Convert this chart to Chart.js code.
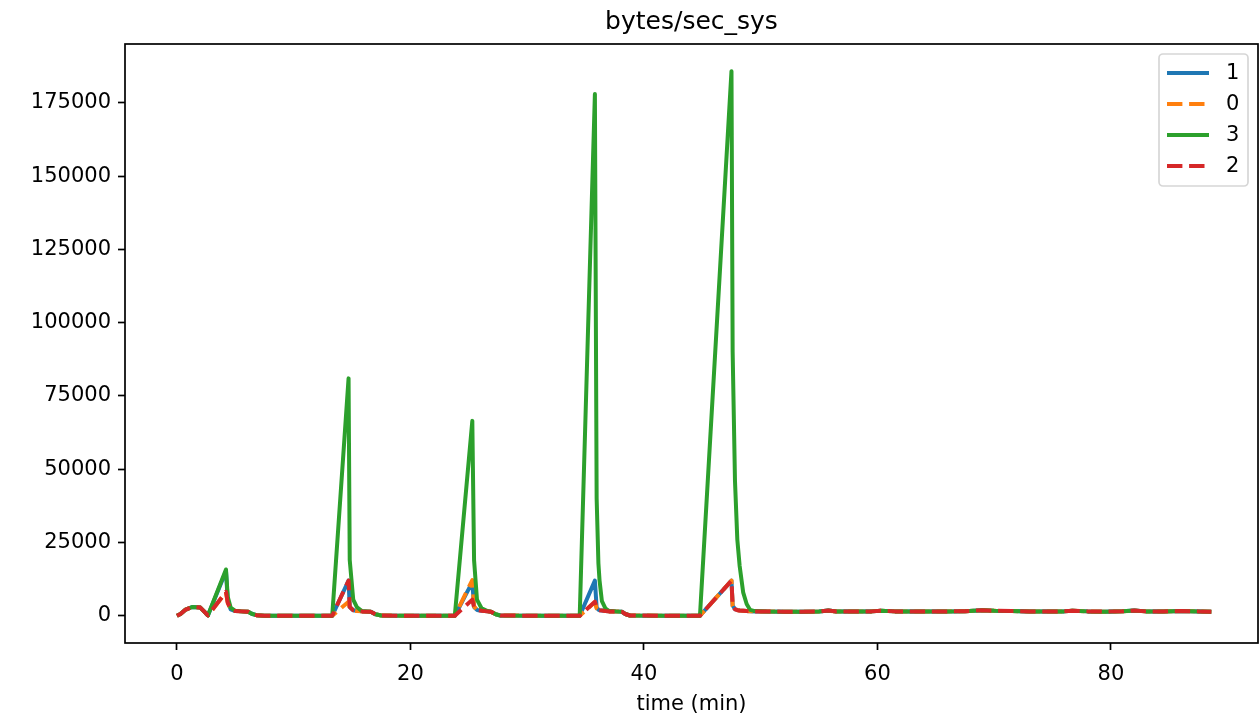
<!DOCTYPE html>
<html>
<head>
<meta charset="utf-8">
<script src="https://cdn.jsdelivr.net/npm/chart.js@4/dist/chart.umd.min.js"></script>
<style>
  html, body { margin: 0; padding: 0; background: #fff; }
  #wrap { width: 1259px; height: 718px; position: relative; }
</style>
</head>
<body>
<div id="wrap"><canvas id="chart" width="1259" height="718"></canvas></div>
<script>
/* ---- Data (time in minutes, shared by all four series) ---- */
const times = [
  0, 0.3, 0.7, 1.3, 2.0, 2.3, 2.65, 4.2, 4.35, 4.6, 5.0, 5.5, 6.1, 6.4, 6.8, 7.5, 10, 13.3,
  14.7, 14.8, 15.1, 15.4, 15.85, 16.6, 17.0, 17.5, 20, 23.8,
  25.3, 25.45, 25.7, 26.1, 26.6, 26.9, 27.3, 27.7, 31, 34.5,
  35.8, 35.95, 36.1, 36.2, 36.4, 36.7, 37.0, 37.6, 38.1, 38.4, 38.8, 42, 44.8,
  47.5, 47.6, 47.8, 48.0, 48.2, 48.5, 48.8, 49.1, 49.5,
  50.5, 52, 53.5, 55, 55.8, 56.5, 58, 59.5, 60.3, 61.5, 63, 64.5, 66, 67.5, 69,
  70, 71.5, 73, 74.5, 76, 76.7, 78, 79.5, 81, 82, 83, 84.5, 86, 87.5, 88.6
];

const series1 = [
  0, 600, 2000, 3000, 2800, 1600, 100, 15200, 5000, 2200, 1600, 1500, 1400, 700, 200, 0, 0, 0,
  12000, 3000, 1900, 1700, 1500, 1400, 500, 100, 0, 0,
  11500, 3000, 2000, 1700, 1500, 1400, 500, 100, 0, 0,
  12000, 2800, 2100, 1900, 1800, 1600, 1500, 1500, 1400, 600, 100, 0, 0,
  12000, 3500, 2300, 2000, 1800, 1700, 1600, 1550, 1500,
  1450, 1400, 1400, 1450, 1800, 1450, 1450, 1500, 1700, 1500, 1450, 1450, 1500, 1550, 1900,
  1700, 1600, 1500, 1450, 1500, 1750, 1500, 1400, 1550, 1800, 1500, 1450, 1650, 1500, 1400
];

const series0 = [
  0, 600, 2000, 3000, 2800, 1600, 100, 8000, 4500, 2200, 1600, 1500, 1400, 700, 200, 0, 0, 0,
  4800, 2600, 1800, 1600, 1500, 1400, 500, 100, 0, 0,
  12200, 3200, 2000, 1700, 1500, 1400, 500, 100, 0, 0,
  4600, 2500, 2000, 1900, 1800, 1600, 1500, 1500, 1400, 600, 100, 0, 0,
  12000, 3300, 2200, 1900, 1800, 1700, 1600, 1550, 1500,
  1450, 1400, 1400, 1450, 1750, 1450, 1450, 1500, 1700, 1500, 1450, 1450, 1500, 1550, 1850,
  1700, 1600, 1500, 1450, 1500, 1700, 1500, 1400, 1550, 1750, 1500, 1450, 1600, 1500, 1400
];

const series3 = [
  0, 600, 2000, 3000, 2800, 1600, 100, 15800, 6500, 2800, 1700, 1500, 1400, 700, 200, 0, 0, 0,
  81000, 19000, 5500, 3000, 1600, 1400, 500, 100, 0, 0,
  66500, 19000, 5500, 2500, 1600, 1400, 500, 100, 0, 0,
  178000, 40000, 18000, 12000, 5000, 2500, 1700, 1500, 1400, 600, 100, 0, 0,
  185800, 90000, 46000, 26000, 17000, 8000, 4000, 2000, 1600,
  1450, 1400, 1400, 1450, 1800, 1450, 1450, 1500, 1700, 1500, 1450, 1450, 1500, 1550, 1900,
  1700, 1600, 1500, 1450, 1500, 1750, 1500, 1400, 1550, 1800, 1500, 1450, 1650, 1500, 1400
];

const series2 = [
  0, 600, 2000, 3000, 2800, 1600, 100, 8200, 4500, 2200, 1600, 1500, 1400, 700, 200, 0, 0, 0,
  12000, 3000, 1900, 1700, 1500, 1400, 500, 100, 0, 0,
  5500, 2800, 2000, 1700, 1500, 1400, 500, 100, 0, 0,
  4800, 2500, 2000, 1900, 1800, 1600, 1500, 1500, 1400, 600, 100, 0, 0,
  12000, 3200, 2200, 1900, 1800, 1700, 1600, 1550, 1500,
  1450, 1400, 1400, 1450, 1800, 1450, 1450, 1500, 1700, 1500, 1450, 1450, 1500, 1550, 1900,
  1700, 1600, 1500, 1450, 1500, 1750, 1500, 1400, 1550, 1800, 1500, 1450, 1650, 1500, 1400
];

const seriesLabels = ['1', '0', '3', '2'];
const xTickValues = [0, 20, 40, 60, 80];
const yTickValues = [0, 25000, 50000, 75000, 100000, 125000, 150000, 175000];

/* ---- Styling ---- */
const FONT = '"DejaVu Sans", "Liberation Sans", sans-serif';
const COLORS = ['#1f77b4', '#ff7f0e', '#2ca02c', '#d62728'];
const DASHED = [false, true, false, true];
const DASH = [15.4, 6.7];
const LINE_W = 4;

const toPoints = (vals) => times.map((t, i) => ({ x: t, y: vals[i] }));
const allSeries = [series1, series0, series3, series2];

const datasets = allSeries.map((vals, i) => ({
  label: seriesLabels[i],
  data: toPoints(vals),
  borderColor: COLORS[i],
  backgroundColor: COLORS[i],
  borderWidth: LINE_W,
  borderDash: DASHED[i] ? DASH : [],
  borderCapStyle: 'butt',
  borderJoinStyle: 'round',
  pointRadius: 0,
  tension: 0,
  fill: false,
  order: 4 - i,          // later series drawn on top, like matplotlib
}));

/* ---- Frame, title and in-axes legend ---- */
const decorPlugin = {
  id: 'decor',
  afterDraw(chart) {
    const { ctx, chartArea: a } = chart;
    ctx.save();

    // axes frame
    ctx.strokeStyle = '#000';
    ctx.lineWidth = 1.7;
    ctx.strokeRect(a.left, a.top, a.right - a.left, a.bottom - a.top);

    // title
    ctx.fillStyle = '#000';
    ctx.font = `25px ${FONT}`;
    ctx.textAlign = 'center';
    ctx.textBaseline = 'alphabetic';
    ctx.fillText('bytes/sec_sys', (a.left + a.right) / 2, a.top - 15);

    // legend box
    const w = 89, h = 132;
    const bx = a.right - 10 - w, by = a.top + 10;
    ctx.beginPath();
    ctx.roundRect(bx, by, w, h, 4);
    ctx.fillStyle = 'rgba(255,255,255,0.8)';
    ctx.fill();
    ctx.strokeStyle = 'rgba(204,204,204,0.8)';
    ctx.lineWidth = 1.7;
    ctx.stroke();

    ctx.font = `21px ${FONT}`;
    ctx.textAlign = 'left';
    ctx.textBaseline = 'middle';
    chart.data.datasets.forEach((ds, i) => {
      const y = by + 19 + i * 31;
      ctx.beginPath();
      ctx.setLineDash(ds.borderDash);
      ctx.lineCap = 'butt';
      ctx.strokeStyle = ds.borderColor;
      ctx.lineWidth = ds.borderWidth;
      ctx.moveTo(bx + 8, y);
      ctx.lineTo(bx + 50, y);
      ctx.stroke();
      ctx.setLineDash([]);
      ctx.fillStyle = '#000';
      ctx.fillText(ds.label, bx + 67, y + 1);
    });

    ctx.restore();
  },
};

new Chart(document.getElementById('chart'), {
  type: 'line',
  data: { datasets },
  plugins: [decorPlugin],
  options: {
    responsive: false,
    animation: false,
    layout: { padding: { top: 44, right: 1, left: 0, bottom: 0 } },
    plugins: {
      legend: { display: false },
      title: { display: false },
      tooltip: { enabled: false },
    },
    scales: {
      x: {
        type: 'linear',
        min: -4.45,
        max: 92.6,
        afterBuildTicks: (s) => { s.ticks = xTickValues.map((v) => ({ value: v })); },
        afterFit: (s) => { s.height = 75; },
        grid: { drawOnChartArea: false, tickLength: 7, tickWidth: 1.7, tickColor: '#000' },
        border: { display: false },
        ticks: {
          color: '#000',
          font: { family: FONT, size: 21 },
          padding: 12,
          maxRotation: 0,
          callback: (v) => String(v),
        },
        title: {
          display: true,
          text: 'time (min)',
          color: '#000',
          font: { family: FONT, size: 21 },
          padding: { top: 0, bottom: 1 },
        },
      },
      y: {
        type: 'linear',
        min: -9290,
        max: 195090,
        afterBuildTicks: (s) => { s.ticks = yTickValues.map((v) => ({ value: v })); },
        afterFit: (s) => { s.width = 125; },
        grid: { drawOnChartArea: false, tickLength: 7, tickWidth: 1.7, tickColor: '#000' },
        border: { display: false },
        ticks: {
          color: '#000',
          font: { family: FONT, size: 21 },
          padding: 7,
          callback: (v) => String(v),
        },
      },
    },
  },
});
</script>
</body>
</html>
